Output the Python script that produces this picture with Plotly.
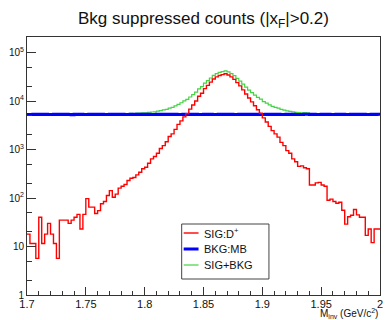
import numpy as np
import plotly.graph_objects as go

# ---- data ----
x_min = 1.7
bin_width = 0.0025
n_bins = 120

sig_counts = [
    18, 11.5, 11.5, 5.7, 40, 11.5, 18, 30, 18, 11.5,
    5.7, 35, 35, 35, 30, 35, 40, 46, 23, 46,
    97, 65, 65, 48, 55, 76, 85, 113, 142, 104,
    120, 160, 175, 190, 230, 255, 265, 300, 340, 400,
    430, 520, 640, 720, 840, 1050, 1200, 1450, 1850, 2100,
    2600, 3300, 3900, 4700, 5500, 6800, 8300, 10000, 12500, 14500,
    18000, 21000, 24500, 28500, 31500, 33500, 35000, 36500, 34500, 31500,
    28000, 24000, 20500, 17000, 14000, 11500, 9600, 8000, 6600, 5600,
    4500, 3700, 3000, 2450, 2100, 1800, 1400, 1200, 950, 840,
    640, 560, 450, 460, 420, 400, 185, 185, 205, 210,
    185, 175, 90, 95, 85, 78, 82, 56, 29, 41,
    44, 58, 45, 40, 40, 17, 23, 12, 23, 23,
]

bkg_counts = [
    5300, 5250, 5350, 5280, 5320, 5260, 5340, 5300, 5270, 5330,
    5290, 5310, 5260, 5350, 5300, 5240, 5320, 5280, 5360, 5300,
    5270, 5330, 5290, 5310, 5250, 5340, 5300, 5280, 5320, 5260,
    5310, 5290, 5350, 5270, 5300, 5330, 5250, 5310, 5290, 5320,
    5280, 5340, 5300, 5260, 5320, 5290, 5350, 5270, 5310, 5300,
    5330, 5260, 5300, 5340, 5280, 5310, 5250, 5320, 5300, 5290,
    5350, 5270, 5310, 5300, 5260, 5330, 5290, 5320, 5280, 5340,
    5300, 5250, 5320, 5290, 5360, 5280, 5310, 5270, 5330, 5300,
    5260, 5340, 5290, 5310, 5280, 5350, 5300, 5270, 5320, 5290,
    5330, 5280, 5300, 5260, 5340, 5310, 5290, 5320, 5250, 5300,
    5310, 5290, 5340, 5270, 5300, 5330, 5280, 5320, 5260, 5300,
    5350, 5290, 5310, 5270, 5330, 5300, 5280, 5340, 5260, 5310,
]

sum_counts = [
    5318, 5262, 5362, 5286, 5360, 5272, 5358, 5330, 5288, 5342,
    5296, 5345, 5295, 5385, 5330, 5275, 5360, 5326, 5383, 5346,
    5367, 5395, 5355, 5358, 5305, 5416, 5385, 5393, 5462, 5364,
    5430, 5450, 5525, 5460, 5530, 5585, 5515, 5610, 5630, 5720,
    5710, 5860, 5940, 5980, 6160, 6340, 6550, 6720, 7160, 7400,
    7930, 8560, 9200, 10040, 10780, 12110, 13550, 15320, 17800, 19790,
    23350, 26270, 29810, 33800, 36760, 38830, 40290, 41820, 39780, 36840,
    33300, 29250, 25820, 22290, 19360, 16780, 14910, 13270, 11930, 10900,
    9760, 9040, 8290, 7760, 7380, 7150, 6700, 6470, 6270, 6130,
    5970, 5840, 5750, 5720, 5760, 5710, 5475, 5505, 5455, 5510,
    5495, 5465, 5430, 5365, 5385, 5408, 5362, 5376, 5289, 5341,
    5394, 5348, 5355, 5310, 5370, 5317, 5303, 5352, 5283, 5333,
]

x_tick_vals = [1.7, 1.75, 1.8, 1.85, 1.9, 1.95, 2.0]
x_tick_text = ["1.7", "1.75", "1.8", "1.85", "1.9", "1.95", "2"]
y_tick_vals = [1, 10, 100, 1000, 10000, 100000]
y_tick_text = ["1", "10", "10<sup>2</sup>", "10<sup>3</sup>", "10<sup>4</sup>", "10<sup>5</sup>"]

legend_labels = ["SIG:D<sup>+</sup>", "BKG:MB", "SIG+BKG"]
title_text = "Bkg suppressed counts (|x<sub>F</sub>|>0.2)"
x_title = "M<sub>inv</sub> (GeV/c<sup>2</sup>)"

# ---- figure ----
edges = np.round(x_min + bin_width * np.arange(n_bins + 1), 5)

def step_y(vals):
    return list(vals) + [vals[-1]]

FONT = "Liberation Sans, Arial, sans-serif"
RED = "#ff0000"
BLUE = "#0000ff"
GREEN = "#44d444"

fig = go.Figure()
fig.add_trace(go.Scatter(x=edges, y=step_y(sum_counts), mode="lines",
                         line=dict(color=GREEN, width=1.2, shape="hv"),
                         showlegend=False, hoverinfo="skip"))
fig.add_trace(go.Scatter(x=edges, y=step_y(bkg_counts), mode="lines",
                         line=dict(color=BLUE, width=3, shape="hv"),
                         showlegend=False, hoverinfo="skip"))
fig.add_trace(go.Scatter(x=edges, y=step_y(sig_counts), mode="lines",
                         line=dict(color=RED, width=1.4, shape="hv"),
                         showlegend=False, hoverinfo="skip"))

W, H = 385, 320
PL, PR, PT, PB = 27, 383, 37, 295          # plot area in page pixels
L, R, T, B = PL, W - PR, PT, H - PB
pw, ph = W - L - R, H - T - B

def px_x(px):
    return (px - L) / pw

def px_y(py):
    return (H - B - py) / ph

fig.update_layout(
    width=W, height=H,
    margin=dict(l=L, r=R, t=T, b=B, pad=0),
    paper_bgcolor="white", plot_bgcolor="white",
    font=dict(family=FONT, size=11, color="#111"),
    title=dict(text=title_text, x=px_x(205), xref="paper", xanchor="center",
               y=1 - 18 / H, yref="container", yanchor="middle",
               font=dict(family=FONT, size=17, color="#111")),
    xaxis=dict(range=[1.7, 2.0], showline=True, mirror=True, linecolor="#333", linewidth=1,
               ticks="inside", ticklen=8, tickcolor="#333",
               tickvals=x_tick_vals, ticktext=x_tick_text,
               ticklabelstandoff=-1, ticklabeloverflow="allow",
               minor=dict(ticks="inside", ticklen=4, dtick=0.01, tick0=1.7, tickcolor="#333", showgrid=False),
               showgrid=False, zeroline=False, tickfont=dict(size=11)),
    yaxis=dict(type="log", range=[0, 5.32], showline=True, mirror=True, linecolor="#333", linewidth=1,
               ticks="inside", ticklen=9, tickcolor="#333",
               tickvals=y_tick_vals, ticktext=y_tick_text,
               minor=dict(ticks="inside", ticklen=5, tickcolor="#333", showgrid=False),
               showgrid=False, zeroline=False, tickfont=dict(size=10)),
    showlegend=False,
)

# x axis title (right aligned, ROOT style)
fig.add_annotation(text=x_title, x=1, xref="paper", xanchor="right",
                   y=px_y(313), yref="paper", yanchor="middle", showarrow=False,
                   font=dict(size=10))

# manual legend box
fig.add_shape(type="rect", xref="paper", yref="paper",
              x0=px_x(183), x1=px_x(271), y0=px_y(279), y1=px_y(224),
              line=dict(color="#444", width=1), fillcolor="white", layer="above")
legend_colors = [RED, BLUE, GREEN]
legend_widths = [1.4, 3, 1.2]
for k, (lab, col, wd) in enumerate(zip(legend_labels, legend_colors, legend_widths)):
    yy = px_y(233 + 16 * k)
    fig.add_shape(type="line", xref="paper", yref="paper",
                  x0=px_x(185), x1=px_x(200), y0=yy, y1=yy,
                  line=dict(color=col, width=wd), layer="above")
    fig.add_annotation(text=lab, x=px_x(203), xref="paper", xanchor="left",
                       y=yy, yref="paper", yanchor="middle", showarrow=False,
                       font=dict(size=11))

# remove the browser's default 8px page margin so the figure sits at (0,0)
fig.write_html("out.html",
               config={"displayModeBar": False, "staticPlot": True},
               post_script="document.body.style.margin='0';document.body.style.overflow='hidden';")
